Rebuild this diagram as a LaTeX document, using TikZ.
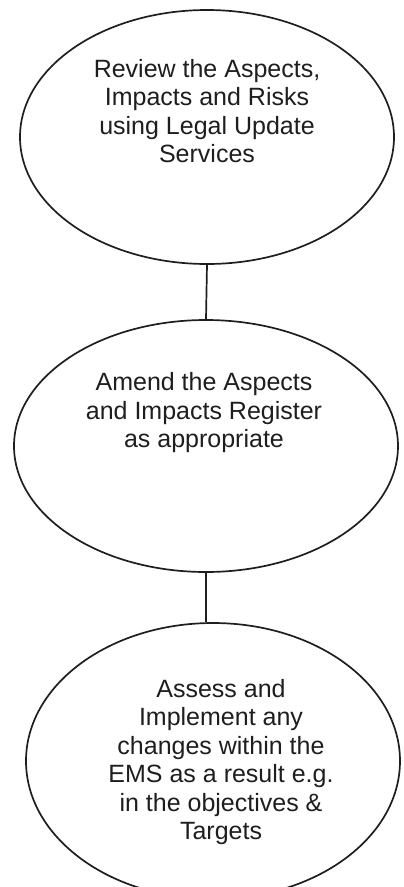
\documentclass[tikz,border=0pt]{standalone}
\usepackage{fontspec}
\setmainfont{Liberation Sans}
\usetikzlibrary{shapes.geometric}
\definecolor{ink}{HTML}{1e1e1e}
\begin{document}
\begin{tikzpicture}[x=1pt,y=-1pt,
  oval/.style={draw=ink,line width=1.7pt,ellipse,inner sep=0pt},
  txt/.style={text=ink,align=center,font=\fontsize{25}{28.5}\selectfont},
  link/.style={draw=ink,line width=1.7pt}]
\useasboundingbox (0,0) rectangle (404,887);
\node[oval,minimum width=374pt,minimum height=254pt] (e1) at (207,137) {};
\node[oval,minimum width=384pt,minimum height=252pt] (e2) at (206,446) {};
\node[oval,minimum width=374pt,minimum height=276pt] (e3) at (213,761) {};
\node[txt] (t1) at (207,111) {Review the Aspects,\\Impacts and Risks\\using Legal Update\\Services};
\node[txt] (t2) at (204,413) {Amend the Aspects\\and Impacts Register\\as appropriate};
\node[txt] (t3) at (221,762) {Assess and\\Implement any\\changes within the\\EMS as a result e.g.\\in the objectives \&\\Targets};
\draw[link] (e1.south) -- (e2.north);
\draw[link] (e2.south) -- (e2.south |- e3.north);
\end{tikzpicture}
\end{document}
